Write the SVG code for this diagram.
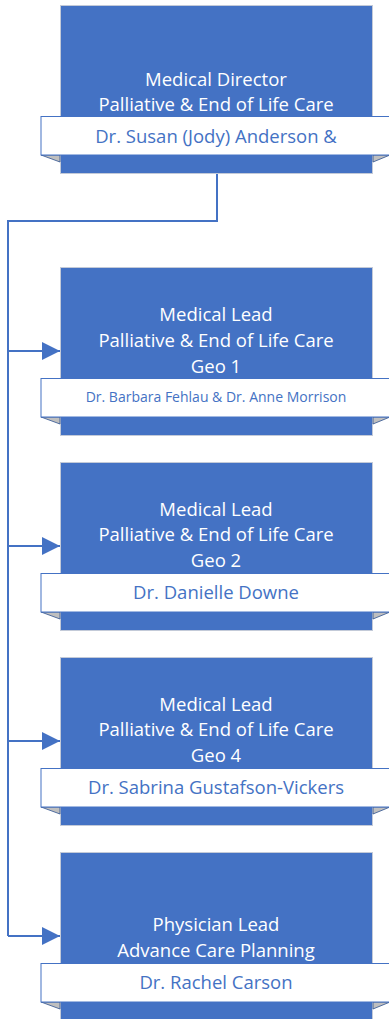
<svg xmlns="http://www.w3.org/2000/svg" width="389" height="1019" viewBox="0 0 389 1019">
<style>
.box{fill:#4472C4;stroke:#C3CAD8;stroke-width:1}
.banner{fill:#FFFFFF;stroke:#4472C4;stroke-width:1}
.fold{fill:#BFBFBF;stroke:#2F528F;stroke-width:0.8}
.t{font-family:"Open Sans","Liberation Sans",sans-serif;font-size:18.5px;fill:#FFFFFF;text-anchor:middle}
.n{font-family:"Open Sans","Liberation Sans",sans-serif;font-size:18.5px;fill:#4472C4;text-anchor:middle}
.s{font-size:14px}
.link{fill:none;stroke:#4472C4;stroke-width:2}
</style>
<defs>
<marker id="arr" markerUnits="userSpaceOnUse" markerWidth="18" markerHeight="18" viewBox="0 0 18 18" refX="18" refY="9" orient="auto">
<path d="M0,0 L18,9 L0,18 Z" fill="#4472C4"/>
</marker>
</defs>
<g id="connectors">
<path class="link" d="M217,173 V221 H8 V936"/>
<path class="link" d="M8,351 H60" marker-end="url(#arr)"/>
<path class="link" d="M8,546 H60" marker-end="url(#arr)"/>
<path class="link" d="M8,741 H60" marker-end="url(#arr)"/>
<path class="link" d="M8,936 H60" marker-end="url(#arr)"/>
</g>
<g id="node-director">
<rect class="box" x="60.5" y="5.5" width="312" height="168"/>
<text class="t" x="216" y="85.5">Medical Director</text>
<text class="t" x="216" y="110.5">Palliative &amp; End of Life Care</text>
<polygon class="fold" points="41,155 60,155 60,162"/>
<polygon class="fold" points="373,155 390,155 373,162"/>
<rect class="banner" x="41" y="116.5" width="360" height="38.5"/>
<text class="n" x="216" y="142.5">Dr. Susan (Jody) Anderson &amp;</text>
</g>
<g id="node-geo1">
<rect class="box" x="60.5" y="267.5" width="312" height="168"/>
<text class="t" x="216" y="320.5">Medical Lead</text>
<text class="t" x="216" y="346.5">Palliative &amp; End of Life Care</text>
<text class="t" x="216" y="372.5">Geo 1</text>
<polygon class="fold" points="41,417 60,417 60,424"/>
<polygon class="fold" points="373,417 390,417 373,424"/>
<rect class="banner" x="41" y="378.5" width="360" height="38.5"/>
<text class="n s" x="216" y="402">Dr. Barbara Fehlau &amp; Dr. Anne Morrison</text>
</g>
<g id="node-geo2">
<rect class="box" x="60.5" y="462.5" width="312" height="168"/>
<text class="t" x="216" y="515.5">Medical Lead</text>
<text class="t" x="216" y="540.5">Palliative &amp; End of Life Care</text>
<text class="t" x="216" y="566.5">Geo 2</text>
<polygon class="fold" points="41,612 60,612 60,619"/>
<polygon class="fold" points="373,612 390,612 373,619"/>
<rect class="banner" x="41" y="573.5" width="360" height="38.5"/>
<text class="n" x="216" y="598.5">Dr. Danielle Downe</text>
</g>
<g id="node-geo4">
<rect class="box" x="60.5" y="657.5" width="312" height="168"/>
<text class="t" x="216" y="710.5">Medical Lead</text>
<text class="t" x="216" y="735.5">Palliative &amp; End of Life Care</text>
<text class="t" x="216" y="761.5">Geo 4</text>
<polygon class="fold" points="41,807 60,807 60,814"/>
<polygon class="fold" points="373,807 390,807 373,814"/>
<rect class="banner" x="41" y="768.5" width="360" height="38.5"/>
<text class="n" x="216" y="793.5">Dr. Sabrina Gustafson-Vickers</text>
</g>
<g id="node-acp">
<rect class="box" x="60.5" y="852.5" width="312" height="180"/>
<text class="t" x="216" y="930.5">Physician Lead</text>
<text class="t" x="216" y="956.5">Advance Care Planning</text>
<polygon class="fold" points="41,1002 60,1002 60,1009"/>
<polygon class="fold" points="373,1002 390,1002 373,1009"/>
<rect class="banner" x="41" y="963.5" width="360" height="38.5"/>
<text class="n" x="216" y="988.5">Dr. Rachel Carson</text>
</g>
</svg>
